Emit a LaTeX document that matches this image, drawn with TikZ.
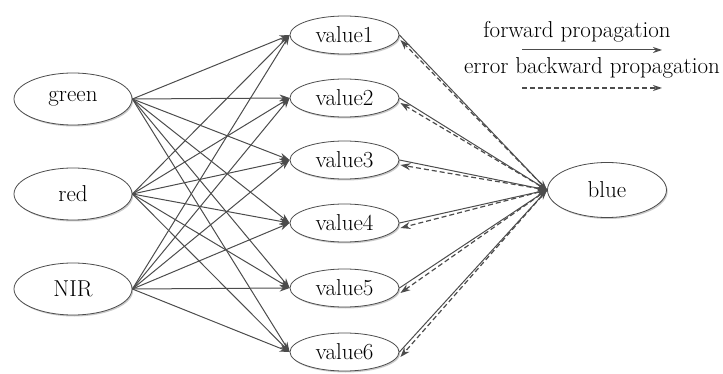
\documentclass[tikz,border=0pt]{standalone}
\usetikzlibrary{arrows.meta,shapes.geometric,shadows}
\begin{document}
\begin{tikzpicture}[x=1pt,y=-1pt,
  nd/.style={ellipse, draw=black!70, line width=0.8pt, fill=white, inner sep=0pt,
    minimum width=118pt, minimum height=52pt, font=\fontsize{23}{25}\selectfont,
    drop shadow={shadow xshift=1.2pt,shadow yshift=-1.5pt,opacity=0.35,fill=black!60}},
  vl/.style={nd, minimum width=109pt, minimum height=38pt},
  fw/.style={draw=black!70, line width=1pt, -{Stealth[length=10pt,width=7pt]}},
  bw/.style={draw=black!70, line width=1.2pt, dash pattern=on 5pt off 3pt, -{Stealth[length=10pt,width=7pt]}},
  lg/.style={font=\fontsize{23}{25}\selectfont, inner sep=0pt}]
\useasboundingbox (0,0) rectangle (723,374);
\node[nd] (green) at (73,99) {green};
\node[nd] (red) at (73,194) {red};
\node[nd] (nir) at (73,289) {NIR};
\node[vl] (v1) at (344.5,35) {value1};
\node[vl] (v2) at (344.5,98) {value2};
\node[vl] (v3) at (344.5,160) {value3};
\node[vl] (v4) at (344.5,223) {value4};
\node[vl] (v5) at (344.5,288) {value5};
\node[vl] (v6) at (344.5,352) {value6};
\node[nd, minimum width=119pt, minimum height=55pt] (blue) at (607,190) {blue};
\foreach \s in {green,red,nir}{
  \foreach \t in {v1,v2,v3,v4,v5,v6}{
    \draw[fw] (\s.east) -- (\t.west);
  }
}
\foreach \t in {v1,v2,v3,v4,v5,v6}{
  \draw[fw] (\t.east) -- (blue.west);
  \draw[bw] (blue.west) -- ([yshift=-5pt,xshift=1pt]\t.east);
}
\node[lg] (lf) at (577,32) {forward propagation};
\node[lg] (lb) at (592,68) {error backward propagation};
\coordinate (fa) at (522,50);
\coordinate (fb) at (662,50);
\coordinate (ba) at (522,88);
\coordinate (bb) at (662,88);
\draw[fw, -{Stealth[length=9pt,width=6pt]}] (fa) -- (fb);
\draw[bw, -{Stealth[length=9pt,width=6pt]}] (ba) -- (bb);
\end{tikzpicture}
\end{document}
